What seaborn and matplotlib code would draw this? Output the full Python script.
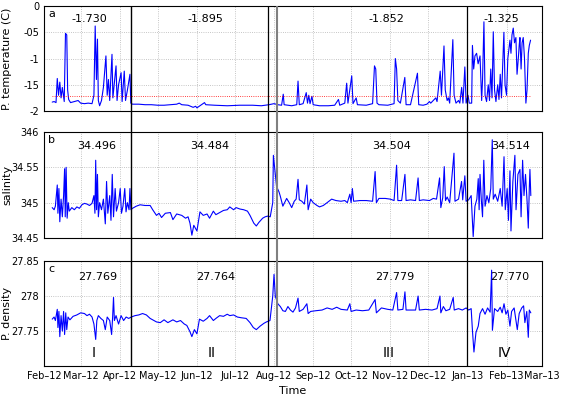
import pandas as pd
import matplotlib
matplotlib.use("Agg")
import matplotlib.pyplot as plt
import seaborn as sns

# days after 2012-02-01
temp_day = [6.5, 8, 9.5, 10.5, 11.5, 12.5, 13.5, 14.5, 16, 17, 18, 18.7, 19.5, 21, 24, 27, 29, 32, 35, 38,
            39.5, 40.5, 41.5, 42.3, 43, 44, 45.5, 47, 49, 50, 51, 52, 53.8, 54.5, 57, 57.8, 59, 61, 61.8,
            63.5, 64.5, 66, 68, 68.7, 70, 75, 80, 85, 90, 95, 100, 105, 107, 109, 114, 118, 120, 121, 124,
            127, 128, 135, 145, 155, 165, 172, 178, 182, 185, 188, 189.3, 190, 196, 200, 201, 202, 205,
            207.5, 208.5, 209.5, 210.5, 212, 213, 218, 225, 230, 233, 234, 238, 239.5, 240.5, 243.5, 244.5,
            247, 248, 255, 260, 261.5, 262.5, 263.5, 265, 272, 277, 278, 279, 280, 282, 285.5, 286.5, 290,
            295.5, 296.5, 300, 303, 305, 306, 310, 311, 313.5, 314.5, 316.5, 317.5, 319, 320, 321, 323.5,
            324.5, 326, 328, 329, 330.5, 331.5, 333, 334, 335.5, 336.5, 338.4, 339, 340, 341, 342.3, 343.5,
            345, 346.3, 347, 348.1, 349, 350.2, 351.5, 352.5, 353.5, 354.5, 355.5, 356.5, 357.6, 359, 360,
            361, 362, 363.9, 364.8, 366, 367, 368.7, 369.5, 370.3, 371.3, 372.3, 373.4, 374.3, 375.3, 376,
            376.6, 377.5, 378.3, 379.2, 380.2, 381.3, 382.2, 383.2, 384, 385]
temp_val = [-1.83, -1.82, -1.84, -1.38, -1.7, -1.45, -1.75, -1.55, -1.82, -0.52, -0.55, -1.6, -1.78, -1.84,
            -1.82, -1.8, -1.85, -1.86, -1.85, -1.86, -1.7, -0.38, -1.4, -0.63, -1.8, -1.9, -1.8, -1.55, -0.95,
            -1.7, -1.4, -1.8, -0.92, -1.75, -1.14, -1.8, -1.5, -1.27, -1.82, -1.24, -1.8, -1.6, -1.3, -1.85,
            -1.87, -1.87, -1.88, -1.88, -1.89, -1.89, -1.88, -1.87, -1.85, -1.88, -1.89, -1.93, -1.91, -1.94,
            -1.89, -1.84, -1.88, -1.89, -1.9, -1.89, -1.89, -1.9, -1.88, -1.86, -1.88, -1.89, -1.68, -1.88,
            -1.9, -1.88, -1.43, -1.88, -1.86, -1.65, -1.85, -1.7, -1.86, -1.72, -1.88, -1.9, -1.9, -1.89,
            -1.78, -1.89, -1.85, -1.47, -1.85, -1.33, -1.86, -1.75, -1.88, -1.89, -1.86, -1.14, -1.2, -1.85,
            -1.88, -1.89, -1.86, -1.0, -1.2, -1.8, -1.85, -1.36, -1.88, -1.88, -1.28, -1.88, -1.89, -1.87,
            -1.82, -1.85, -1.75, -1.82, -1.24, -1.7, -0.76, -1.6, -1.8, -1.75, -1.85, -0.64, -1.7, -1.85,
            -1.8, -1.85, -1.55, -1.85, -1.16, -1.85, -1.7, -1.85, -1.85, -0.75, -1.2, -0.95, -0.9, -1.1,
            -0.95, -1.8, -1.4, -0.3, -1.7, -1.82, -1.5, -1.8, -1.2, -1.75, -0.49, -1.6, -1.82, -1.5, -1.78,
            -1.3, -1.75, -0.5, -1.5, -1.7, -1.0, -0.65, -0.9, -0.55, -0.42, -0.7, -0.6, -1.3, -1.0, -0.75,
            -0.6, -1.2, -0.7, -0.6, -1.0, -1.85, -1.6, -0.9, -0.75, -0.65]

sal_day = [6.5, 8, 9, 10.5, 11, 11.8, 12.5, 13.5, 14.5, 15.5, 16.3, 16.8, 17.5, 18.3, 19.2, 20, 22, 24, 26,
           28, 30, 32, 34, 36, 38, 39.5, 40.3, 40.9, 41.6, 42.3, 43, 44, 45.5, 47, 48.5, 49.5, 50.5, 52, 53,
           54, 55, 56.3, 57.3, 59, 60.3, 61.3, 62.5, 63.9, 64.9, 66, 67.3, 68, 68.8, 70, 73, 76, 80, 84, 86,
           89, 91, 93, 96, 100, 102, 105, 109, 112, 114, 115.5, 117, 118.5, 121, 123.4, 126, 129, 131, 134,
           136, 139, 142, 145, 147, 150, 152, 155, 158, 161, 163, 166, 168, 170, 173, 175, 177, 179, 181,
           181.5, 182.5, 184, 186, 187, 189, 192, 194, 196, 198, 199.5, 201, 202, 204, 206, 208, 209, 211,
           213, 216, 218, 221, 224, 227.6, 231, 235, 238, 240, 242, 243, 244, 245, 250, 255, 260, 262, 263,
           265, 270, 274, 277, 279, 280, 283, 285.6, 286.5, 290, 294, 296, 297, 300, 305, 308, 310.6, 313,
           314, 315.5, 316.7, 317.7, 319, 321, 324.4, 325.2, 328, 330.4, 331.3, 333, 334, 336, 338, 339.6,
           341, 342.5, 343.6, 344.3, 345, 346, 347, 348, 349, 350.5, 352, 353.5, 354.7, 355.5, 357, 359,
           361, 362.5, 364, 365, 366.5, 367.5, 368.7, 369.5, 371, 372.6, 373.5, 375, 376.6, 377.5, 378.7,
           379.8, 381, 382.3, 383.2, 384, 384.5, 385.2]
sal_val = [34.493, 34.49, 34.495, 34.525, 34.485, 34.52, 34.473, 34.505, 34.48, 34.51, 34.548, 34.48, 34.55,
           34.478, 34.5, 34.488, 34.493, 34.49, 34.494, 34.492, 34.497, 34.499, 34.498, 34.496, 34.499,
           34.51, 34.485, 34.56, 34.49, 34.54, 34.48, 34.5, 34.49, 34.505, 34.47, 34.53, 34.485, 34.51,
           34.475, 34.54, 34.48, 34.52, 34.488, 34.5, 34.52, 34.485, 34.495, 34.52, 34.487, 34.5, 34.49,
           34.52, 34.49, 34.492, 34.495, 34.497, 34.496, 34.496, 34.49, 34.482, 34.485, 34.479, 34.485,
           34.486, 34.476, 34.484, 34.482, 34.478, 34.48, 34.471, 34.454, 34.468, 34.46, 34.487, 34.482,
           34.484, 34.478, 34.488, 34.483, 34.486, 34.489, 34.49, 34.494, 34.49, 34.493, 34.491, 34.49,
           34.488, 34.482, 34.471, 34.467, 34.472, 34.478, 34.48, 34.481, 34.48, 34.5, 34.567, 34.55,
           34.523, 34.515, 34.509, 34.495, 34.506, 34.5, 34.493, 34.502, 34.505, 34.533, 34.504, 34.502,
           34.498, 34.525, 34.49, 34.505, 34.5, 34.496, 34.494, 34.496, 34.5, 34.505, 34.503, 34.502,
           34.503, 34.5, 34.512, 34.5, 34.52, 34.502, 34.503, 34.503, 34.502, 34.544, 34.5, 34.506, 34.506,
           34.505, 34.503, 34.553, 34.503, 34.503, 34.54, 34.503, 34.504, 34.503, 34.535, 34.503, 34.504,
           34.503, 34.506, 34.505, 34.535, 34.493, 34.507, 34.551, 34.503, 34.508, 34.5, 34.57, 34.502,
           34.505, 34.53, 34.504, 34.538, 34.502, 34.504, 34.51, 34.452, 34.495, 34.505, 34.534, 34.49,
           34.54, 34.505, 34.48, 34.56, 34.495, 34.51, 34.5, 34.52, 34.589, 34.505, 34.512, 34.502, 34.52,
           34.495, 34.565, 34.49, 34.52, 34.475, 34.545, 34.46, 34.53, 34.567, 34.49, 34.54, 34.547, 34.48,
           34.56, 34.51, 34.54, 34.5, 34.464, 34.52, 34.547, 34.51]

dens_day = [6.5, 8, 9, 10.5, 11, 11.8, 12.5, 13.5, 14.5, 15.5, 16.3, 17.2, 18, 19, 20.5, 23, 26, 29, 32, 34,
            36, 38, 39.5, 40.9, 41.8, 43, 45, 47, 48.5, 50, 52, 53.5, 54.3, 55, 55.7, 57, 59, 61, 63, 65, 67,
            69, 72, 75, 78, 81, 84, 86, 89, 92, 95, 98, 102, 105, 108, 111, 113, 115.5, 117, 119, 121, 123,
            126, 129, 131, 134, 136, 139, 142, 145, 147, 150, 153, 156, 160, 163, 165.6, 168, 171, 174, 176,
            178.8, 181, 182, 183, 185, 187, 189, 191, 193, 195, 197, 199, 201, 202, 205, 208, 209, 211, 215,
            220, 224, 228, 231.6, 235, 240, 242, 243, 247, 252, 257, 262, 263, 267, 272, 276, 279, 280, 284,
            285.6, 286.5, 290, 294, 296, 297, 302, 307, 311, 313.3, 314, 316, 318, 321, 323.8, 324.6, 328,
            331, 334, 336, 338, 339, 340.2, 341.8, 343.6, 345, 347, 349, 351, 353, 354.2, 354.8, 356.5, 359,
            361, 362.5, 364, 365.5, 367, 368.7, 370, 372, 374.5, 376, 378, 379.5, 380.5, 382, 383.2, 384,
            385.2]
dens_val = [27.767, 27.77, 27.765, 27.781, 27.755, 27.778, 27.742, 27.772, 27.75, 27.778, 27.745, 27.776,
            27.752, 27.77, 27.766, 27.771, 27.773, 27.776, 27.775, 27.772, 27.774, 27.77, 27.76, 27.738,
            27.765, 27.772, 27.768, 27.765, 27.752, 27.77, 27.765, 27.745, 27.77, 27.798, 27.765, 27.772,
            27.76, 27.772, 27.765, 27.77, 27.768, 27.77, 27.772, 27.773, 27.775, 27.773, 27.768, 27.766,
            27.763, 27.762, 27.766, 27.762, 27.766, 27.763, 27.765, 27.76, 27.758, 27.749, 27.742, 27.752,
            27.746, 27.767, 27.764, 27.768, 27.772, 27.765, 27.768, 27.772, 27.771, 27.774, 27.772, 27.773,
            27.77, 27.769, 27.768, 27.762, 27.755, 27.752, 27.757, 27.761, 27.763, 27.765, 27.8, 27.831,
            27.8, 27.789, 27.785, 27.779, 27.778, 27.785, 27.78, 27.777, 27.783, 27.797, 27.778, 27.781,
            27.789, 27.775, 27.778, 27.779, 27.78, 27.783, 27.781, 27.784, 27.781, 27.78, 27.789, 27.778,
            27.78, 27.779, 27.78, 27.795, 27.776, 27.783, 27.781, 27.78, 27.805, 27.78, 27.781, 27.806,
            27.78, 27.78, 27.78, 27.8, 27.78, 27.781, 27.78, 27.782, 27.8, 27.776, 27.785, 27.779, 27.781,
            27.798, 27.78, 27.782, 27.78, 27.783, 27.78, 27.782, 27.751, 27.72, 27.748, 27.757, 27.775,
            27.782, 27.774, 27.783, 27.777, 27.837, 27.751, 27.782, 27.778, 27.784, 27.776, 27.789, 27.774,
            27.78, 27.757, 27.778, 27.783, 27.752, 27.775, 27.783, 27.786, 27.762, 27.778, 27.741, 27.78,
            27.776]

# period means and their positions (day of text centre)
temp_means = ["-1.730", "-1.895", "-1.852", "-1.325"]
sal_means = ["34.496", "34.484", "34.504", "34.514"]
dens_means = ["27.769", "27.764", "27.779", "27.770"]
temp_mean_day = [35.6, 128, 271, 361.5]
sal_mean_day = [42, 131, 275, 369.5]
dens_mean_day = [42.5, 136, 277.7, 368.3]
periods = ["I", "II", "III", "IV"]
period_day = [39.6, 133, 273, 364]

month_ticks = pd.date_range("2012-02-01", "2013-03-01", freq="MS")
month_labels = ["Feb\u201312", "Mar\u201312", "Apr\u201312", "May\u201312", "Jun\u201312", "Jul\u201312",
                "Aug\u201312", "Sep\u201312", "Oct\u201312", "Nov\u201312", "Dec\u201312", "Jan\u201313",
                "Feb\u201313", "Mar\u201313"]

temp_ticks = [-2, -1.5, -1, -0.5, 0]
temp_tick_labels = ["-2", "-15", "-1", "-05", "0"]
sal_ticks = [34.45, 34.5, 34.55, 34.6]
sal_tick_labels = ["34.45", "345", "34.55", "346"]
dens_ticks = [27.75, 27.8, 27.85]
dens_tick_labels = ["27.75", "278", "27.85"]

sns.set_style("white")
plt.rcParams["font.family"] = ["DejaVu Sans"]
plt.rcParams["text.color"] = "black"
plt.rcParams["axes.labelcolor"] = "black"
plt.rcParams["xtick.color"] = "black"
plt.rcParams["ytick.color"] = "black"

start = pd.Timestamp("2012-02-01")
end = pd.Timestamp("2013-03-01")


def to_dates(days):
    return start + pd.to_timedelta(days, unit="D")


fig = plt.figure(figsize=(5.62, 3.99), dpi=100)

panels = [
    ([0.0783, 0.7218, 0.886, 0.263], temp_day, temp_val, (-2, 0), temp_ticks, temp_tick_labels,
     "P. temperature (C)", "a", temp_means, temp_mean_day, 0.876),
    ([0.0783, 0.4035, 0.886, 0.2657], sal_day, sal_val, (34.45, 34.6), sal_ticks, sal_tick_labels,
     "salinity", "b", sal_means, sal_mean_day, 0.868),
    ([0.0783, 0.0827, 0.886, 0.263], dens_day, dens_val, (27.70, 27.85), dens_ticks, dens_tick_labels,
     "P. density", "c", dens_means, dens_mean_day, 0.85),
]

axes = []
for pos, d, v, ylim, ticks, tlabels, ylabel, letter, means, mday, my in panels:
    ax = fig.add_axes(pos)
    sns.lineplot(x=to_dates(d), y=v, ax=ax, color="#0000ff", lw=0.8, estimator=None)
    ax.set_xlim(start, end)
    ax.set_ylim(*ylim)
    ax.set_yticks(ticks)
    ax.set_yticklabels(tlabels)
    ax.set_xticks(month_ticks)
    ax.set_xticklabels([])
    ax.set_xlabel("")
    ax.grid(True, ls=":", color="0.7", lw=0.6)
    ax.tick_params(direction="in", length=3, labelsize=7, color="0.3")
    for s in ax.spines.values():
        s.set_color("black")
        s.set_linewidth(0.8)
    ax.set_ylabel(ylabel, fontsize=8)
    ax.yaxis.set_label_coords(-0.064, 0.5)
    ax.text(0.008, 0.92, letter, transform=ax.transAxes, fontsize=8, va="center", ha="left")
    for m, md in zip(means, mday):
        ax.text(to_dates(md), my, m, transform=ax.get_xaxis_transform(), fontsize=8,
                ha="center", va="center")
    axes.append(ax)

# freezing-point line in panel a
axes[0].hlines(-1.71, to_dates(6.5), to_dates(385), colors="red", linestyles=":", lw=0.6)

axc = axes[2]
axc.set_xticklabels(month_labels, fontsize=7)
axc.set_xlabel("Time", fontsize=8)
for p, pd_ in zip(periods, period_day):
    axc.text(to_dates(pd_), 0.124, p, transform=axc.get_xaxis_transform(), fontsize=10,
             ha="center", va="center")

# separators spanning all three panels
over = fig.add_axes([0.0783, 0.0827, 0.886, 0.985 - 0.0827])
over.patch.set_alpha(0)
over.axis("off")
over.set_xlim(start, end)
over.axvline(pd.Timestamp("2012-04-10"), color="black", lw=1.0)
over.axvline(pd.Timestamp("2012-07-27"), color="black", lw=0.9)
over.axvline(pd.Timestamp("2012-08-03"), color="0.5", lw=1.5)
over.axvline(pd.Timestamp("2013-01-01"), color="black", lw=0.9)

fig.savefig("out.png", dpi=100)
